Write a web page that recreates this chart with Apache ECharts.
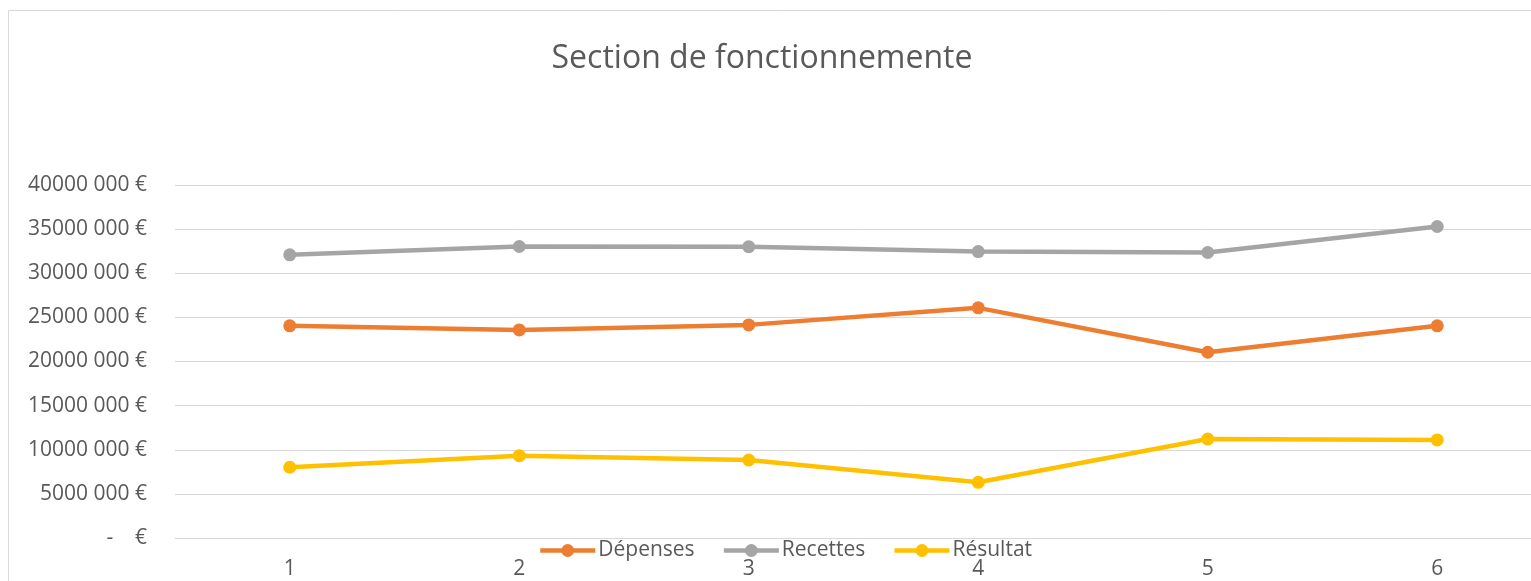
<!DOCTYPE html>
<html>
<head>
<meta charset="utf-8">
<script src="https://cdn.jsdelivr.net/npm/echarts@6/dist/echarts.min.js"></script>
<style>
  html, body { margin: 0; padding: 0; background: #fff; overflow: hidden; }
  /* the plot runs a bit past the right edge of the picture, like the original */
  #main { width: 1552px; height: 581px; }
</style>
</head>
<body>
<div id="main"></div>
<script>
// périodes sur l'axe X
var categories = ['1', '2', '3', '4', '5', '6'];
var depenses = [24040000, 23580000, 24150000, 26080000, 21050000, 24040000];
var recettes = [32090000, 33030000, 33000000, 32460000, 32350000, 35300000];
var resultat = [8020000, 9330000, 8840000, 6310000, 11220000, 11110000];
var seriesNames = ['Dépenses', 'Recettes', 'Résultat'];
var seriesColors = ['#ED7D31', '#A5A5A5', '#FFC000'];

var textColor = '#595959';
var font = 'Open Sans';

function makeLine(name, data, color) {
  return {
    name: name,
    type: 'line',
    data: data,
    symbol: 'circle',
    symbolSize: 13,
    lineStyle: { color: color, width: 4.5 },
    itemStyle: { color: color },
    emphasis: { disabled: true }
  };
}

var chart = echarts.init(document.getElementById('main'));
var option = {
  animation: false,
  title: {
    text: 'Section de fonctionnemente',
    left: 757,
    textAlign: 'center',
    top: 38,
    textStyle: { color: textColor, fontSize: 32, fontWeight: 'normal', fontFamily: font }
  },
  graphic: [{
    type: 'rect',
    shape: { x: 8.5, y: 10.5, width: 1560, height: 600 },
    style: { fill: null, stroke: '#d9d9d9', lineWidth: 1 },
    silent: true
  }],
  legend: {
    data: seriesNames,
    left: 533,
    top: 535,
    itemWidth: 55,
    itemHeight: 16,
    itemGap: 27,
    lineStyle: { width: 4.5 },
    textStyle: { color: textColor, fontSize: 21, fontFamily: font, padding: [0, 0, 0, -2] }
  },
  grid: { left: 175, top: 185, right: 0, bottom: 43 },
  xAxis: {
    type: 'category',
    data: categories,
    boundaryGap: true,
    axisTick: { show: false },
    axisLine: { lineStyle: { color: '#d9d9d9', width: 1 } },
    axisLabel: { color: textColor, fontSize: 21, fontFamily: font, margin: 21 }
  },
  yAxis: {
    type: 'value',
    min: 0,
    max: 40000000,
    interval: 5000000,
    axisLine: { show: false },
    axisTick: { show: false },
    splitLine: { lineStyle: { color: '#d9d9d9', width: 1 } },
    axisLabel: {
      color: textColor, fontSize: 21, fontFamily: font, margin: 28,
      formatter: function (v) {
        if (v === 0) return '-    €';
        return (v / 1000) + ' 000 €';
      }
    }
  },
  series: [
    makeLine(seriesNames[0], depenses, seriesColors[0]),
    makeLine(seriesNames[1], recettes, seriesColors[1]),
    makeLine(seriesNames[2], resultat, seriesColors[2])
  ]
};
chart.setOption(option);
</script>
</body>
</html>
